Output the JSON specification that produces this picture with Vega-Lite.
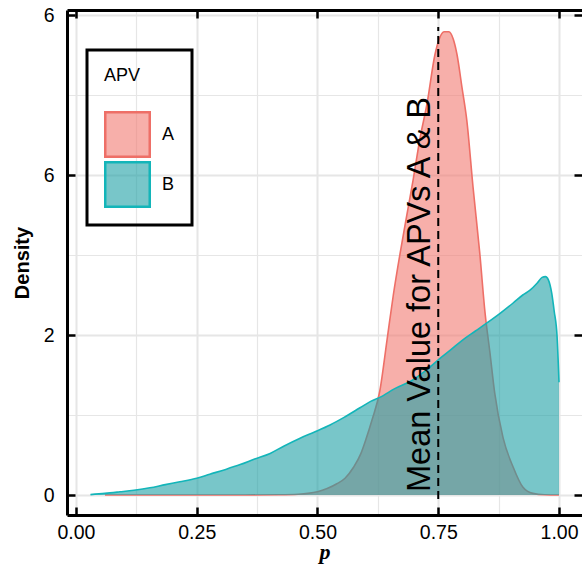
{
  "$schema": "https://vega.github.io/schema/vega-lite/v6.json",
  "width": 515,
  "height": 505,
  "autosize": {"type": "none"},
  "padding": {"left": 67, "top": 10, "right": 0, "bottom": 54},
  "background": "white",
  "config": {"view": {"stroke": null}, "font": "Liberation Sans"},
  "datasets": {
    "density": [
      {"APV": "A", "p": 0.06, "density": 0},
      {"APV": "A", "p": 0.15, "density": 0},
      {"APV": "A", "p": 0.25, "density": 0},
      {"APV": "A", "p": 0.35, "density": 0},
      {"APV": "A", "p": 0.42, "density": 0.003},
      {"APV": "A", "p": 0.46, "density": 0.01},
      {"APV": "A", "p": 0.48, "density": 0.02},
      {"APV": "A", "p": 0.5, "density": 0.04},
      {"APV": "A", "p": 0.52, "density": 0.08},
      {"APV": "A", "p": 0.54, "density": 0.14},
      {"APV": "A", "p": 0.557, "density": 0.21},
      {"APV": "A", "p": 0.575, "density": 0.35},
      {"APV": "A", "p": 0.59, "density": 0.52},
      {"APV": "A", "p": 0.6, "density": 0.69},
      {"APV": "A", "p": 0.613, "density": 0.94},
      {"APV": "A", "p": 0.629, "density": 1.3},
      {"APV": "A", "p": 0.644, "density": 1.94},
      {"APV": "A", "p": 0.657, "density": 2.5},
      {"APV": "A", "p": 0.671, "density": 3.02},
      {"APV": "A", "p": 0.685, "density": 3.5},
      {"APV": "A", "p": 0.698, "density": 3.94},
      {"APV": "A", "p": 0.712, "density": 4.45},
      {"APV": "A", "p": 0.727, "density": 4.9},
      {"APV": "A", "p": 0.743, "density": 5.5},
      {"APV": "A", "p": 0.752, "density": 5.7},
      {"APV": "A", "p": 0.762, "density": 5.79},
      {"APV": "A", "p": 0.772, "density": 5.79},
      {"APV": "A", "p": 0.781, "density": 5.7},
      {"APV": "A", "p": 0.789, "density": 5.5},
      {"APV": "A", "p": 0.799, "density": 5.1},
      {"APV": "A", "p": 0.809, "density": 4.69},
      {"APV": "A", "p": 0.822, "density": 3.85},
      {"APV": "A", "p": 0.836, "density": 3.02},
      {"APV": "A", "p": 0.847, "density": 2.27},
      {"APV": "A", "p": 0.857, "density": 1.78},
      {"APV": "A", "p": 0.867, "density": 1.27},
      {"APV": "A", "p": 0.884, "density": 0.72},
      {"APV": "A", "p": 0.905, "density": 0.35},
      {"APV": "A", "p": 0.925, "density": 0.1},
      {"APV": "A", "p": 0.946, "density": 0.02},
      {"APV": "A", "p": 0.97, "density": 0.003},
      {"APV": "A", "p": 1.0, "density": 0},
      {"APV": "B", "p": 0.03, "density": 0.005},
      {"APV": "B", "p": 0.06, "density": 0.02},
      {"APV": "B", "p": 0.091, "density": 0.04},
      {"APV": "B", "p": 0.12, "density": 0.06},
      {"APV": "B", "p": 0.153, "density": 0.09},
      {"APV": "B", "p": 0.185, "density": 0.13},
      {"APV": "B", "p": 0.215, "density": 0.165},
      {"APV": "B", "p": 0.25, "density": 0.21},
      {"APV": "B", "p": 0.277, "density": 0.26},
      {"APV": "B", "p": 0.31, "density": 0.32},
      {"APV": "B", "p": 0.34, "density": 0.38},
      {"APV": "B", "p": 0.37, "density": 0.45},
      {"APV": "B", "p": 0.402, "density": 0.52},
      {"APV": "B", "p": 0.43, "density": 0.61},
      {"APV": "B", "p": 0.464, "density": 0.71},
      {"APV": "B", "p": 0.495, "density": 0.79},
      {"APV": "B", "p": 0.526, "density": 0.875},
      {"APV": "B", "p": 0.555, "density": 0.97},
      {"APV": "B", "p": 0.588, "density": 1.09},
      {"APV": "B", "p": 0.61, "density": 1.17},
      {"APV": "B", "p": 0.629, "density": 1.22},
      {"APV": "B", "p": 0.66, "density": 1.33},
      {"APV": "B", "p": 0.698, "density": 1.44},
      {"APV": "B", "p": 0.725, "density": 1.56},
      {"APV": "B", "p": 0.75, "density": 1.69},
      {"APV": "B", "p": 0.775, "density": 1.81},
      {"APV": "B", "p": 0.801, "density": 1.94},
      {"APV": "B", "p": 0.827, "density": 2.05},
      {"APV": "B", "p": 0.853, "density": 2.16},
      {"APV": "B", "p": 0.88, "density": 2.28},
      {"APV": "B", "p": 0.905, "density": 2.4},
      {"APV": "B", "p": 0.925, "density": 2.5},
      {"APV": "B", "p": 0.94, "density": 2.56},
      {"APV": "B", "p": 0.955, "density": 2.65},
      {"APV": "B", "p": 0.965, "density": 2.72},
      {"APV": "B", "p": 0.972, "density": 2.73},
      {"APV": "B", "p": 0.978, "density": 2.69},
      {"APV": "B", "p": 0.985, "density": 2.52},
      {"APV": "B", "p": 0.99, "density": 2.3},
      {"APV": "B", "p": 0.996, "density": 1.98},
      {"APV": "B", "p": 1.0, "density": 1.41}
    ],
    "mean": [
      {"p": 0.75, "lo": -0.05, "hi": 5.85, "label": "Mean Value for APVs A & B"}
    ]
  },
  "resolve": {"axis": {"x": "independent", "y": "independent"}},
  "layer": [
    {
      "data": {"name": "density"},
      "transform": [{"filter": "datum.APV === 'A'"}],
      "mark": {"type": "area", "interpolate": "monotone", "fillOpacity": 0.6, "strokeWidth": 0},
      "encoding": {
        "x": {
          "field": "p", "type": "quantitative",
          "scale": {"domain": [-0.0186, 1.0476], "nice": false, "zero": false},
          "axis": {
            "orient": "bottom", "values": [0, 0.25, 0.5, 0.75, 1], "format": ".2f",
            "grid": false, "domain": true, "domainColor": "black", "domainWidth": 3,
            "ticks": true, "tickColor": "black", "tickWidth": 2.5, "tickSize": -8,
            "labelFont": "Liberation Sans", "labelFontSize": 19.5, "labelColor": "black",
            "labelPadding": 16, "labelFlush": false, "labelOverlap": false,
            "title": "p", "titleFont": "Liberation Serif", "titleFontSize": 22,
            "titleFontWeight": "bold", "titleFontStyle": "italic", "titleColor": "black",
            "titlePadding": 0
          }
        },
        "y": {
          "field": "density", "type": "quantitative",
          "scale": {"domain": [-0.25, 6.0625], "nice": false, "zero": false},
          "axis": {
            "orient": "left", "values": [0, 2, 4, 6],
            "labelExpr": "datum.value === 4 ? '6' : datum.label",
            "grid": false, "domain": true, "domainColor": "black", "domainWidth": 3,
            "ticks": true, "tickColor": "black", "tickWidth": 2.5, "tickSize": -8,
            "labelFont": "Liberation Sans", "labelFontSize": 19.5, "labelColor": "black",
            "labelPadding": 21, "labelOverlap": false,
            "title": "Density", "titleFont": "Liberation Sans", "titleFontSize": 20,
            "titleFontWeight": "bold", "titleColor": "black", "titlePadding": 11
          }
        },
        "y2": {"datum": 0},
        "fill": {
          "field": "APV", "type": "nominal",
          "scale": {"domain": ["A", "B"], "range": ["#F17A72", "#1EA0A5"]},
          "legend": {
            "orient": "none", "legendX": 20, "legendY": 40,
            "padding": 17, "strokeColor": "black",
            "title": "APV", "titleFont": "Liberation Sans", "titleFontSize": 18,
            "titleFontWeight": "normal", "titleColor": "black", "titlePadding": 26,
            "labelFont": "Liberation Sans", "labelFontSize": 18, "labelColor": "black",
            "labelOffset": 11, "labelExpr": "datum.label + '\u2003\u2003'",
            "symbolType": "square", "symbolSize": 1980, "symbolStrokeWidth": 2.5,
            "clipHeight": 47, "rowPadding": 3,
            "encode": {
              "legend": {"update": {"stroke": {"value": "black"}, "strokeWidth": {"value": 3}}},
              "symbols": {"update": {"fillOpacity": {"value": 0.6}, "strokeWidth": {"value": 2.5}, "opacity": {"value": 1}}}
            }
          }
        },
        "stroke": {
          "field": "APV", "type": "nominal",
          "scale": {"domain": ["A", "B"], "range": ["#EE6F67", "#13B5B9"]},
          "legend": {
            "orient": "none", "legendX": 20, "legendY": 40,
            "padding": 17, "strokeColor": "black",
            "title": "APV", "titleFont": "Liberation Sans", "titleFontSize": 18,
            "titleFontWeight": "normal", "titleColor": "black", "titlePadding": 26,
            "labelFont": "Liberation Sans", "labelFontSize": 18, "labelColor": "black",
            "labelOffset": 11, "labelExpr": "datum.label + '\u2003\u2003'",
            "symbolType": "square", "symbolSize": 1980, "symbolStrokeWidth": 2.5,
            "clipHeight": 47, "rowPadding": 3
          }
        }
      }
    },
    {
      "data": {"name": "density"},
      "transform": [{"filter": "datum.APV === 'A'"}],
      "mark": {"type": "line", "interpolate": "monotone", "strokeWidth": 1.6},
      "encoding": {
        "x": {
          "field": "p", "type": "quantitative",
          "axis": {
            "orient": "top",
            "values": [0, 0.125, 0.25, 0.375, 0.5, 0.625, 0.75, 0.875, 1],
            "labels": false, "title": null,
            "grid": true, "gridColor": "#E6E6E6",
            "gridWidth": {"condition": {"test": "datum.value % 0.25 === 0", "value": 2}, "value": 1.2},
            "domain": true, "domainColor": "black", "domainWidth": 3,
            "ticks": true, "tickColor": "black", "tickWidth": 2.5, "tickSize": -8,
            "tickOpacity": {"condition": {"test": "datum.value % 0.25 === 0", "value": 1}, "value": 0}
          }
        },
        "y": {
          "field": "density", "type": "quantitative",
          "axis": {
            "orient": "right", "values": [0, 1, 2, 3, 4, 5, 6],
            "labels": false, "title": null,
            "grid": true, "gridColor": "#E6E6E6",
            "gridWidth": {"condition": {"test": "datum.value % 2 === 0", "value": 2}, "value": 1.2},
            "domain": false,
            "ticks": true, "tickColor": "black", "tickWidth": 2.5, "tickSize": -8,
            "tickOpacity": {"condition": {"test": "datum.value % 2 === 0", "value": 1}, "value": 0}
          }
        },
        "stroke": {"field": "APV", "type": "nominal", "legend": null}
      }
    },
    {
      "data": {"name": "density"},
      "transform": [{"filter": "datum.APV === 'B'"}],
      "mark": {"type": "area", "interpolate": "monotone", "fillOpacity": 0.6, "strokeWidth": 0},
      "encoding": {
        "x": {"field": "p", "type": "quantitative", "axis": null},
        "y": {"field": "density", "type": "quantitative", "axis": null},
        "y2": {"datum": 0},
        "fill": {"field": "APV", "type": "nominal", "legend": null}
      }
    },
    {
      "data": {"name": "density"},
      "transform": [{"filter": "datum.APV === 'B'"}],
      "mark": {"type": "line", "interpolate": "monotone", "strokeWidth": 1.6},
      "encoding": {
        "x": {"field": "p", "type": "quantitative", "axis": null},
        "y": {"field": "density", "type": "quantitative", "axis": null},
        "stroke": {"field": "APV", "type": "nominal", "legend": null}
      }
    },
    {
      "data": {"name": "mean"},
      "mark": {"type": "rule", "color": "black", "strokeWidth": 2, "strokeDash": [8, 5]},
      "encoding": {
        "x": {"field": "p", "type": "quantitative", "axis": null},
        "y": {"field": "lo", "type": "quantitative", "axis": null},
        "y2": {"field": "hi"}
      }
    },
    {
      "data": {"name": "mean"},
      "mark": {"type": "text", "angle": 270, "align": "left", "baseline": "alphabetic", "dx": 3, "dy": -8, "font": "Liberation Sans", "fontSize": 32.5, "color": "black"},
      "encoding": {
        "x": {"field": "p", "type": "quantitative", "axis": null},
        "y": {"datum": 0, "type": "quantitative", "axis": null},
        "text": {"field": "label"}
      }
    }
  ]
}
